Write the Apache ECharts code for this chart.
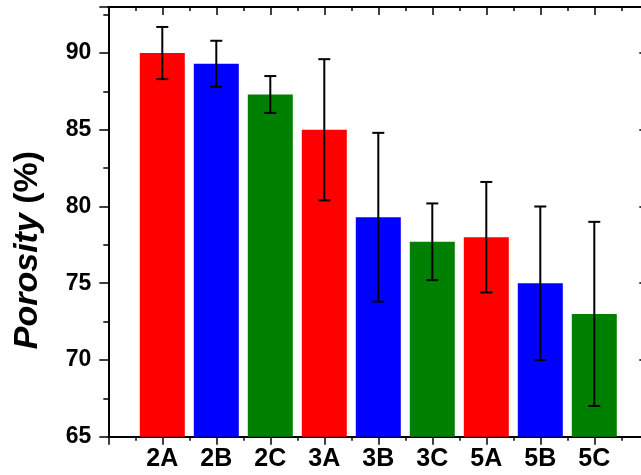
<!DOCTYPE html>
<html>
<head>
<meta charset="utf-8">
<script src="https://cdn.jsdelivr.net/npm/echarts@6/dist/echarts.min.js"></script>
<style>
html,body{margin:0;padding:0;background:#fff;}
#chart{width:641px;height:475px;}
</style>
</head>
<body>
<div id="chart"></div>
<script>
var categories = ['2A','2B','2C','3A','3B','3C','5A','5B','5C'];
var porosity   = [90.0, 89.3, 87.3, 85.0, 79.3, 77.7, 78.0, 75.0, 73.0];
var errUpper   = [91.7, 90.8, 88.5, 89.6, 84.8, 80.2, 81.6, 80.0, 79.0];
var errLower   = [88.3, 87.8, 86.1, 80.4, 73.8, 75.2, 74.4, 70.0, 67.0];
var barColors  = ['#FF0000','#0000FF','#008000','#FF0000','#0000FF','#008000','#FF0000','#0000FF','#008000'];
var yTicks     = [65, 70, 75, 80, 85, 90];

var FONT = '"Liberation Sans", Arial, sans-serif';

var barData = categories.map(function (c, i) {
  return { value: [i + 1, porosity[i]], itemStyle: { color: barColors[i] } };
});
var errData = categories.map(function (c, i) {
  return [i + 1, errLower[i], errUpper[i]];
});

var chart = echarts.init(document.getElementById('chart'), null, { renderer: 'canvas' });

var lineStyle = { color: '#000', width: 2 };

var option = {
  animation: false,
  backgroundColor: '#fff',
  grid: { left: 108.3, width: 540, top: 7, height: 429.7, containLabel: false, outerBoundsMode: 'none' },
  xAxis: [
    {
      type: 'value', position: 'bottom', min: 0, max: 10, interval: 1,
      axisLine: { show: true, onZero: false, lineStyle: lineStyle },
      axisTick: { show: true, inside: false, length: 8, lineStyle: { color: '#000', width: 1.5 } },
      minorTick: { show: true, splitNumber: 2, length: 4, lineStyle: { color: '#000', width: 1.5 } },
      splitLine: { show: false },
      axisLabel: {
        show: true, margin: 10, color: '#000', fontFamily: FONT, fontWeight: 'bold', fontSize: 25,
        formatter: function (v) { var k = Math.round(v); return (k >= 1 && k <= categories.length && Math.abs(v - k) < 1e-6) ? categories[k - 1] : ''; }
      }
    },
    {
      type: 'value', position: 'top', min: 0, max: 10, interval: 1,
      axisLine: { show: true, onZero: false, lineStyle: lineStyle },
      axisTick: { show: true, inside: true, length: 8, lineStyle: { color: '#000', width: 1.5 } },
      minorTick: { show: true, splitNumber: 2, length: 4, lineStyle: { color: '#000', width: 1.5 } },
      splitLine: { show: false },
      axisLabel: { show: false }
    }
  ],
  yAxis: [
    {
      type: 'value', position: 'left', min: 65, max: 93, interval: 5,
      axisLine: { show: true, onZero: false, lineStyle: lineStyle },
      axisTick: { show: true, inside: false, length: 9, lineStyle: { color: '#000', width: 1.5 } },
      splitLine: { show: false },
      axisLabel: {
        show: true, margin: 17, color: '#000', fontFamily: FONT, fontWeight: 'bold', fontSize: 23,
        formatter: function (v) { return yTicks.indexOf(v) >= 0 ? String(v) : ''; }
      }
    },
    {
      type: 'value', position: 'left', min: 65, max: 93, interval: 2.5,
      axisLine: { show: false },
      axisTick: { show: true, inside: false, length: 5, lineStyle: { color: '#000', width: 1.5 } },
      splitLine: { show: false },
      axisLabel: { show: false }
    },
    {
      type: 'value', position: 'right', min: 65, max: 93, interval: 5,
      axisLine: { show: true, onZero: false, lineStyle: lineStyle },
      axisTick: { show: true, inside: true, length: 9, lineStyle: { color: '#000', width: 1.5 } },
      splitLine: { show: false },
      axisLabel: { show: false }
    }
  ],
  graphic: [
    {
      type: 'text',
      x: 28, y: 250,
      rotation: Math.PI / 2,
      style: {
        text: '{i|Porosity }{n|(%)}',
        textAlign: 'center',
        textVerticalAlign: 'middle',
        rich: {
          i: { fontFamily: FONT, fontWeight: 'bold', fontStyle: 'italic', fontSize: 34, fill: '#000' },
          n: { fontFamily: FONT, fontWeight: 'bold', fontSize: 34, fill: '#000' }
        }
      }
    }
  ],
  series: [
    {
      type: 'bar', xAxisIndex: 0, yAxisIndex: 0,
      barWidth: 45,
      data: barData,
      clip: true
    },
    {
      type: 'custom', xAxisIndex: 0, yAxisIndex: 0,
      data: errData,
      z: 10,
      renderItem: function (params, api) {
        var x = api.value(0);
        var lo = api.coord([x, api.value(1)]);
        var hi = api.coord([x, api.value(2)]);
        var hw = 6;
        var st = { stroke: '#000', lineWidth: 2 };
        return {
          type: 'group',
          children: [
            { type: 'line', shape: { x1: hi[0], y1: hi[1], x2: lo[0], y2: lo[1] }, style: st },
            { type: 'line', shape: { x1: hi[0] - hw, y1: hi[1], x2: hi[0] + hw, y2: hi[1] }, style: st },
            { type: 'line', shape: { x1: lo[0] - hw, y1: lo[1], x2: lo[0] + hw, y2: lo[1] }, style: st }
          ]
        };
      }
    }
  ]
};
chart.setOption(option);
</script>
</body>
</html>
